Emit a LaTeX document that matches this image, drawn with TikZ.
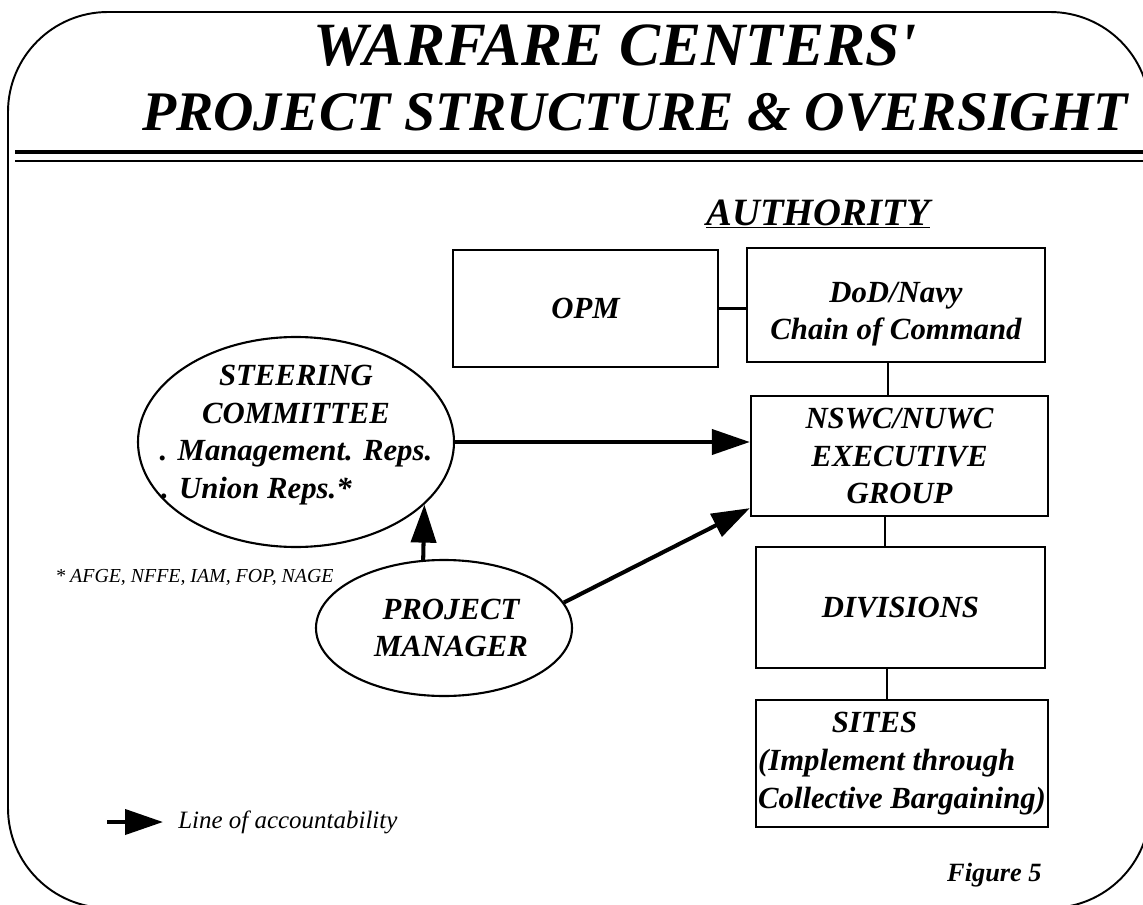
\documentclass[tikz,border=0pt]{standalone}
\usepackage{fontspec}
\setmainfont{Liberation Serif}
\usetikzlibrary{shapes.geometric}
\usetikzlibrary{arrows.meta}
\usetikzlibrary{positioning}

\begin{document}
\begin{tikzpicture}[
    unitbox/.style={draw,line width=1.3pt,inner sep=0pt,align=center,font=\fontsize{17.5}{21.5}\selectfont\bfseries\itshape},
    group/.style={draw,ellipse,line width=1.2pt,inner sep=0pt},
    grouptext/.style={inner sep=0pt,align=center,font=\fontsize{17.5}{21.5}\selectfont\bfseries\itshape},
    account/.style={line width=2.3pt,-{Triangle[length=0.76cm,width=0.5cm]}},
    link/.style={line width=1.2pt}]
    \useasboundingbox (0,0) rectangle (22.86,-18.1);
    \draw[line width=1.1pt,rounded corners=2cm] (0.16,-0.24) rectangle (23.0,-18.16);
    \node[anchor=base,font=\fontsize{35}{38}\selectfont\bfseries\itshape] (title1) at (12.3,-1.32) {WARFARE CENTERS\textquotesingle};
    \node[anchor=base,font=\fontsize{31.8}{36}\selectfont\bfseries\itshape] (title2) at (12.7,-2.62) {PROJECT STRUCTURE \& OVERSIGHT};
    \draw[line width=2.3pt] (0.3,-3.04) -- (23,-3.04);
    \draw[line width=1.6pt] (0.3,-3.22) -- (23,-3.22);
    \node[anchor=base,font=\fontsize{22}{26}\selectfont\bfseries\itshape] (auth) at (16.36,-4.5) {\underline{AUTHORITY}};

    \node[unitbox,minimum width=5.3cm,minimum height=2.34cm] (opm) at (11.71,-6.17) {OPM};
    \node[unitbox,minimum width=5.96cm,minimum height=2.28cm] (dod) at (17.92,-6.10) {\rule{0pt}{22pt}DoD/Navy\\Chain of Command};
    \node[unitbox,minimum width=5.94cm,minimum height=2.4cm] (nswc) at (17.99,-9.12) {NSWC/NUWC\\EXECUTIVE\\GROUP};
    \node[unitbox,minimum width=5.78cm,minimum height=2.42cm] (div) at (18.01,-12.15) {DIVISIONS};
    \node[unitbox,align=left,minimum width=5.84cm,minimum height=2.54cm] (sites) at (18.04,-15.27) {\hspace*{42pt}SITES\\(Implement through\\Collective Bargaining)};
    \draw[link] (opm.east) -- (opm.east -| dod.west);
    \draw[link] ([xshift=-0.16cm]dod.south) -- ([xshift=-0.16cm]dod.south |- nswc.north);
    \draw[link] ([xshift=-0.29cm]nswc.south) -- ([xshift=-0.29cm]nswc.south |- div.north);
    \draw[link] ([xshift=-0.27cm]div.south) -- ([xshift=-0.27cm]div.south |- sites.north);

    \node[group,minimum width=6.32cm,minimum height=4.2cm,label={[grouptext,yshift=0.14cm]center:{STEERING\\COMMITTEE\\. Management. Reps.\\. Union Reps.*\hspace*{45pt}}}] (steer) at (5.92,-8.84) {};
    \node[group,minimum width=5.12cm,minimum height=2.72cm,label={[grouptext,xshift=0.14cm]center:{PROJECT\\MANAGER}}] (pm) at (8.88,-12.56) {};
    \draw[account] (steer.east) -- (steer.east -| nswc.west);
    \draw[account] (pm.107) -- (steer.-26);
    \draw[account] (pm.12) -- ([yshift=0.18cm]nswc.south west);

    \node[anchor=west,inner sep=0pt,font=\fontsize{11.3}{13}\selectfont\itshape] (unions) at (1.1,-11.54) {*\ AFGE, NFFE, IAM, FOP, NAGE};
    \coordinate (legtail) at (2.14,-16.44);
    \node[anchor=west,inner sep=0pt,font=\fontsize{14.2}{16}\selectfont\itshape] (legend) at (3.56,-16.44) {Line of accountability};
    \draw[account] (legtail) -- ([xshift=-0.3cm]legend.west);
    \node[anchor=east,inner sep=0pt,font=\fontsize{15}{17}\selectfont\bfseries\itshape] (fig) at (20.84,-17.5) {Figure 5};
\end{tikzpicture}
\end{document}
